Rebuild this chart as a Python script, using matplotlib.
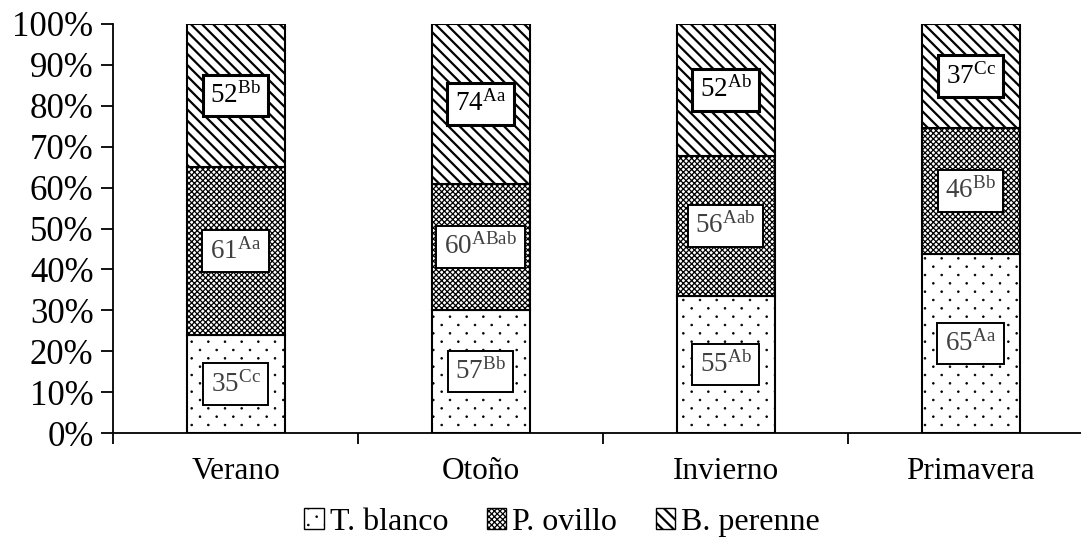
import matplotlib
matplotlib.use("Agg")
import matplotlib.pyplot as plt
import matplotlib.hatch as mhatch
from matplotlib.patches import Patch
from matplotlib.path import Path
import numpy as np

plt.rcParams['font.family'] = ['Liberation Serif', 'DejaVu Serif']
plt.rcParams['mathtext.fontset'] = 'custom'
plt.rcParams['mathtext.rm'] = 'Liberation Serif'
plt.rcParams['hatch.linewidth'] = 1.0


class RowDots(mhatch.HatchPatternBase):
    """Tiny filled dots, staggered rows at half the column spacing."""

    def __init__(self, hatch, density):
        self.cols = hatch.count('.') * density
        self.rows = 2 * self.cols
        self.circle = Path.unit_circle()
        n = sum(self.cols + 1 if r % 2 == 0 else self.cols
                for r in range(self.rows + 1))
        self.num_vertices = n * len(self.circle.vertices) if self.cols else 0

    def set_vertices_and_codes(self, vertices, codes):
        step = 1.0 / self.cols
        dot = self.circle.vertices * 0.05 * step
        vparts, cparts = [], []
        for r in range(self.rows + 1):
            if r % 2 == 0:
                xs = np.linspace(0, 1, self.cols + 1)
            else:
                xs = np.linspace(step / 2, 1 - step / 2, self.cols)
            for cx in xs:
                vparts.append(dot + [cx, r * step / 2])
                cparts.append(self.circle.codes)
        np.concatenate(vparts, out=vertices)
        np.concatenate(cparts, out=codes)


mhatch._hatch_types = [RowDots if t is mhatch.SmallFilledCircles else t
                       for t in mhatch._hatch_types]

seasons = ['Verano', 'Otoño', 'Invierno', 'Primavera']
species = ['T. blanco', 'P. ovillo', 'B. perenne']

# share of each species (%) per season
t_blanco = [24.0, 30.0, 33.5, 43.8]
p_ovillo = [41.0, 31.0, 34.2, 30.8]
b_perenne = [35.0, 39.0, 32.3, 25.4]

# values written in the boxes with their significance letters
val_tb = ['35', '57', '55', '65']
sig_tb = ['Cc', 'Bb', 'Ab', 'Aa']
val_po = ['61', '60', '56', '46']
sig_po = ['Aa', 'ABab', 'Aab', 'Bb']
val_bp = ['52', '74', '52', '37']
sig_bp = ['Bb', 'Aa', 'Ab', 'Cc']

hatches = ['.', 'xxxxxx', '\\\\\\']
hatch_lw = [0.6, 0.9, 1.6]


def set_hlw(p, lw):
    if hasattr(p, 'set_hatch_linewidth'):
        p.set_hatch_linewidth(lw)


fig = plt.figure(figsize=(10.81, 5.43), dpi=100)
ax = fig.add_axes([113 / 1081, 110 / 543, 980 / 1081, 409 / 543])

x = np.arange(len(seasons))
stack = [t_blanco, p_ovillo, b_perenne]
texts = [(val_tb, sig_tb), (val_po, sig_po), (val_bp, sig_bp)]
bottom = np.zeros(len(seasons))
for i, vals in enumerate(stack):
    vals = np.array(vals)
    bars = ax.bar(x, vals, 0.4, bottom=bottom, color='white', edgecolor='black',
                  linewidth=1.5, hatch=hatches[i], zorder=2)
    for b in bars:
        set_hlw(b, hatch_lw[i])
    nums, sigs = texts[i]
    top = i == 2
    for j in range(len(seasons)):
        ax.text(x[j], bottom[j] + vals[j] / 2,
                r'$\mathregular{%s^{%s}}$' % (nums[j], sigs[j]),
                ha='center', va='center', fontsize=19.5,
                color='black' if top else '#404040', zorder=3,
                bbox=dict(boxstyle='square,pad=0.28', facecolor='white',
                          edgecolor='black', linewidth=2.2 if top else 1.4))
    bottom += vals

ax.set_xlim(-0.5, 3.5)
ax.set_ylim(0, 100)
ax.set_yticks(np.arange(0, 101, 10))
ax.set_yticklabels(['%d%%' % v for v in range(0, 101, 10)], fontsize=25)
ax.set_xticks(np.arange(-0.5, 3.6, 1))
ax.set_xticklabels([])
ax.set_xticks(x, minor=True)
ax.set_xticklabels(seasons, minor=True, fontsize=22.5)
ax.tick_params(axis='x', which='minor', length=0, pad=17)
ax.tick_params(axis='x', which='major', length=8, width=1.3, direction='out')
ax.tick_params(axis='y', length=9, width=1.3, direction='out', pad=5)
for s in ['top', 'right']:
    ax.spines[s].set_visible(False)
for s in ['left', 'bottom']:
    ax.spines[s].set_linewidth(1.3)

handles = [Patch(facecolor='white', edgecolor='black', hatch=h, label=l)
           for h, l in zip(hatches, species)]
leg = fig.legend(handles=handles, loc='center', bbox_to_anchor=(0.52, 0.038),
                 ncol=3, frameon=False, fontsize=23, handlelength=0.6,
                 handleheight=0.6, handletextpad=0.2, columnspacing=1.2)
for p, lw in zip(leg.get_patches(), hatch_lw):
    set_hlw(p, lw)

fig.savefig('out.png', dpi=100)
